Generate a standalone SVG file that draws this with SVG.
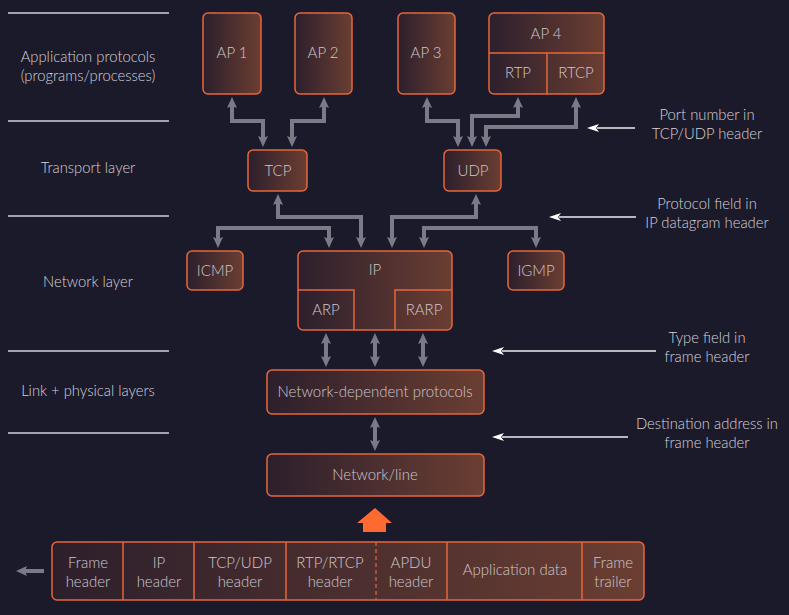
<svg xmlns="http://www.w3.org/2000/svg" width="789" height="615" viewBox="0 0 789 615">
<style>
.bg{fill:#1b1a2b}
.node{fill:url(#g);stroke:#e8663a;stroke-width:1.5}
.div{stroke:#e8663a;stroke-width:1.5;fill:none}
.t{font-family:Lato,"Liberation Sans",sans-serif;font-weight:300;font-size:15px;fill:#cdc9ce;text-anchor:middle}
.lab{font-family:Lato,"Liberation Sans",sans-serif;font-weight:300;font-size:14.8px;fill:#d6d3d8;text-anchor:middle}
.sep{stroke:#d0d0d8;stroke-width:1.5}
.con{fill:none;stroke:#7b7a87;stroke-width:4;marker-start:url(#ah);marker-end:url(#ah)}
.one{fill:none;stroke:#7b7a87;stroke-width:4;marker-end:url(#ah)}
.ann{fill:none;stroke:#ececf2;stroke-width:1.5;marker-end:url(#wh)}
</style>
<defs>
<linearGradient id="g" x1="0" y1="0" x2="1" y2="0">
<stop offset="0" stop-color="#2c1f2c"/>
<stop offset="1" stop-color="#6b3e32"/>
</linearGradient>
<marker id="ah" markerUnits="userSpaceOnUse" markerWidth="14" markerHeight="12" refX="2" refY="5" orient="auto-start-reverse" overflow="visible">
<path d="M0,0 L11,5 L0,10 L2,5 z" fill="#7b7a87"/>
</marker>
<marker id="wh" markerUnits="userSpaceOnUse" markerWidth="14" markerHeight="12" refX="2" refY="4" orient="auto" overflow="visible">
<path d="M0,0 L12,4 L0,8 L3,4 z" fill="#ffffff"/>
</marker>
</defs>
<rect class="bg" x="0" y="0" width="789" height="615"/>

<g id="layers">
<line class="sep" x1="8" y1="13" x2="169" y2="13"/>
<line class="sep" x1="8" y1="121" x2="169" y2="121"/>
<line class="sep" x1="8" y1="216" x2="169" y2="216"/>
<line class="sep" x1="8" y1="351" x2="169" y2="351"/>
<line class="sep" x1="8" y1="433" x2="169" y2="433"/>
<text class="lab" x="88" y="62">Application protocols</text>
<text class="lab" x="88" y="81">(programs/processes)</text>
<text class="lab" x="88" y="173">Transport layer</text>
<text class="lab" x="88" y="287">Network layer</text>
<text class="lab" x="88" y="396">Link + physical layers</text>
</g>

<g id="connectors">
<path class="con" d="M232,106 V121 H263 V138"/>
<path class="con" d="M324,106 V121 H292 V138"/>
<path class="con" d="M427,106 V121 H458 V138"/>
<path class="con" d="M518,106 V116 H472 V138"/>
<path class="con" d="M576,106 V127 H486 V138"/>
<path class="con" d="M278,203 V217 H361 V239"/>
<path class="con" d="M476,203 V217 H392 V239"/>
<path class="con" d="M218,239 V228 H329 V239"/>
<path class="con" d="M536,239 V228 H424 V239"/>
<path class="con" d="M326,342 V358"/>
<path class="con" d="M375,342 V358"/>
<path class="con" d="M423,342 V358"/>
<path class="con" d="M375,426 V442"/>
<path class="one" d="M44,571 H25"/>
<path class="ann" d="M635,128 H597"/>
<path class="ann" d="M636,217 H559"/>
<path class="ann" d="M656,351 H502"/>
<path class="ann" d="M628,437 H502"/>
</g>

<g id="ap1"><rect class="node" x="203" y="13" width="58" height="81" rx="5"/><text class="t" x="232" y="58">AP 1</text></g>
<g id="ap2"><rect class="node" x="295" y="13" width="57" height="81" rx="5"/><text class="t" x="323" y="58">AP 2</text></g>
<g id="ap3"><rect class="node" x="398" y="13" width="57" height="81" rx="5"/><text class="t" x="426" y="58">AP 3</text></g>
<g id="ap4"><rect class="node" x="489" y="13" width="115" height="81" rx="5"/>
<path class="div" d="M489,53 H604 M547,53 V94"/>
<text class="t" x="546" y="39">AP 4</text><text class="t" x="518" y="78">RTP</text><text class="t" x="576" y="78">RTCP</text></g>
<g id="tcp"><rect class="node" x="248" y="150" width="59" height="41" rx="5"/><text class="t" x="278" y="176">TCP</text></g>
<g id="udp"><rect class="node" x="444" y="150" width="57" height="41" rx="5"/><text class="t" x="473" y="176">UDP</text></g>
<g id="icmp"><rect class="node" x="187" y="251" width="56" height="39" rx="5"/><text class="t" x="215" y="276">ICMP</text></g>
<g id="ip"><rect class="node" x="298" y="251" width="154" height="79" rx="5"/>
<path class="div" d="M298,290 H354 V330 M452,290 H395 V330"/>
<text class="t" x="375" y="275">IP</text><text class="t" x="326" y="315">ARP</text><text class="t" x="424" y="315">RARP</text></g>
<g id="igmp"><rect class="node" x="508" y="251" width="56" height="39" rx="5"/><text class="t" x="536" y="276">IGMP</text></g>
<g id="ndp"><rect class="node" x="267" y="370" width="217" height="44" rx="5"/><text class="t" x="375" y="397">Network-dependent protocols</text></g>
<g id="net"><rect class="node" x="267" y="454" width="217" height="42" rx="5"/><text class="t" x="375" y="480">Network/line</text></g>

<g id="up">
<polygon points="375,508 392,523 386,523 386,532 363,532 363,523 357,523" fill="#ff6a30"/>
</g>

<g id="frame">
<rect class="node" x="52" y="542" width="592" height="58" rx="5"/>
<path class="div" d="M123,542 V600 M194,542 V600 M286,542 V600 M447,542 V600 M582,542 V600"/>
<line x1="376" y1="542" x2="376" y2="600" stroke="#e8663a" stroke-width="1.2" stroke-dasharray="4,3"/>
<text class="t" x="88" y="568">Frame</text><text class="t" x="88" y="587">header</text>
<text class="t" x="159" y="568">IP</text><text class="t" x="159" y="587">header</text>
<text class="t" x="240" y="568">TCP/UDP</text><text class="t" x="240" y="587">header</text>
<text class="t" x="330" y="568">RTP/RTCP</text><text class="t" x="330" y="587">header</text>
<text class="t" x="411" y="568">APDU</text><text class="t" x="411" y="587">header</text>
<text class="t" x="515" y="575">Application data</text>
<text class="t" x="613" y="568">Frame</text><text class="t" x="613" y="587">trailer</text>
</g>

<g id="notes">
<text class="lab" x="707" y="120">Port number in</text>
<text class="lab" x="707" y="139">TCP/UDP header</text>
<text class="lab" x="707" y="209">Protocol field in</text>
<text class="lab" x="707" y="228">IP datagram header</text>
<text class="lab" x="707" y="343">Type field in</text>
<text class="lab" x="707" y="362">frame header</text>
<text class="lab" x="707" y="429">Destination address in</text>
<text class="lab" x="707" y="448">frame header</text>
</g>
</svg>
